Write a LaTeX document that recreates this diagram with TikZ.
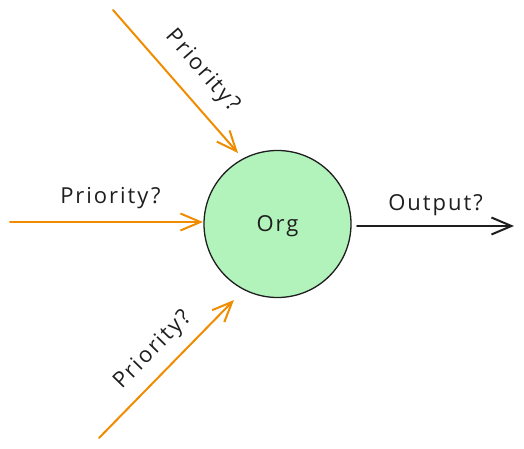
\documentclass[tikz,border=0pt]{standalone}
\usepackage{fontspec}
\setmainfont{Open Sans}
\usetikzlibrary{arrows.meta}
\definecolor{ink}{HTML}{1E1E1E}
\definecolor{orgfill}{HTML}{B2F2BB}
\definecolor{prio}{HTML}{F08C00}
\tikzset{
  lbl/.style={font=\fontsize{22}{25}\selectfont\addfontfeature{LetterSpace=9}, text=ink, inner sep=0pt},
  parrow/.style={draw=prio, line width=2pt, line cap=round, -{Straight Barb[length=20pt,width=17pt,line width=2pt]}},
  oarrow/.style={draw=ink, line width=2pt, line cap=round, -{Straight Barb[length=20pt,width=17pt,line width=2pt]}},
  orgnode/.style={circle, draw=ink, line width=1.3pt, fill=orgfill, minimum size=147pt, inner sep=0pt}
}
\begin{document}
\begin{tikzpicture}[x=1pt,y=-1pt]
\useasboundingbox (0,0) rectangle (524,449);
\node[orgnode] (org) at (277.5,224) {};
\node[lbl] (orglbl) at (277.5,226) {Org};
\coordinate (t0) at (113,10);
\coordinate (t1) at (238,153);
\coordinate (l0) at (10,222);
\coordinate (l1) at (203,222);
\coordinate (b0) at (99,438);
\coordinate (b1) at (234,300);
\coordinate (o0) at (357,226);
\coordinate (o1) at (514,226);
\draw[parrow] (t0) -- (t1) node[lbl, pos=0.55, sloped, above=15pt] (tl) {Priority?};
\draw[parrow] (l0) -- (l1) node[lbl, pos=0.52, above=12pt] (ll) {Priority?};
\draw[parrow] (b0) -- (b1) node[lbl, pos=0.52, sloped, above=11pt] (bl) {Priority?};
\draw[oarrow] (o0) -- (o1) node[lbl, pos=0.5, above=9pt] (ol) {Output?};
\end{tikzpicture}
\end{document}
